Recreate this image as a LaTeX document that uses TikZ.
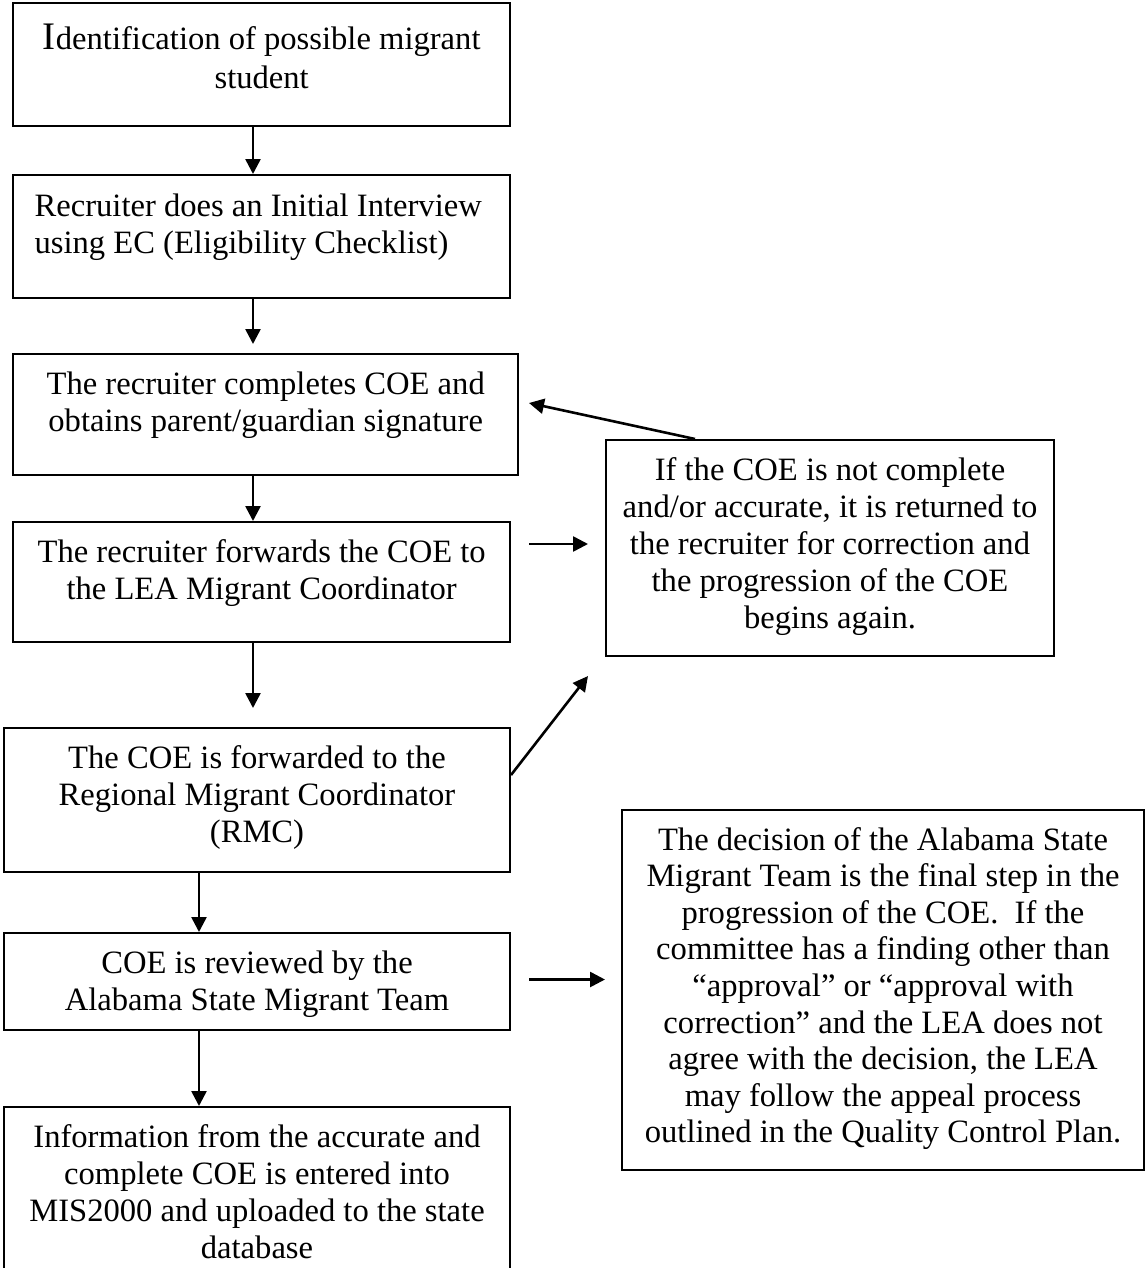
\documentclass[tikz,border=0pt]{standalone}
\usepackage{fontspec}
\setmainfont{Liberation Serif}
\usepackage{tikz}
\usetikzlibrary{calc,arrows.meta}
\newcommand{\stagetext}[3]{\parbox[c][#2][t]{#1}{\centering\rule{0pt}{20pt}#3}}

\begin{document}
\begin{tikzpicture}[
  x=0.5pt, y=-0.5pt,
  stage/.style={draw, line width=1pt, inner sep=0pt, anchor=north west,
    font=\fontsize{16.3}{18.5}\selectfont},
  flow/.style={-{Triangle[length=7.5pt,width=7.5pt]}, line width=1.3pt}
]
\useasboundingbox (0,0) rectangle (1145,1268);
\coordinate (colA) at (253,0);
\coordinate (colB) at (199,0);

\node[stage] (b1) at (12.4,2.4) {\stagetext{248.3pt}{61.3pt}{\rule{0pt}{23pt}{\fontsize{19.5}{19.5}\selectfont I}dentification of possible migrant\\[1pt]student}};
\node[stage] (b2) at (12.4,174) {\parbox[c][61.5pt][t]{248.3pt}{\raggedright\leftskip=10.6pt\rule{0pt}{20.5pt}Recruiter does an Initial Interview\\using EC (Eligibility Checklist)}};
\node[stage] (b3) at (12.4,353) {\stagetext{252.3pt}{60.5pt}{The recruiter completes COE and\\obtains parent/guardian signature}};
\node[stage] (b4) at (12.4,521) {\stagetext{248.3pt}{60pt}{The recruiter forwards the COE to\\the LEA Migrant Coordinator}};
\node[stage] (b5) at (3,727) {\stagetext{253pt}{72pt}{The COE is forwarded to the\\Regional Migrant Coordinator\\(RMC)}};
\node[stage] (b6) at (3,932) {\stagetext{253pt}{48.5pt}{COE is reviewed by the\\Alabama State Migrant Team}};
\node[stage] (b7) at (3,1106) {\stagetext{253pt}{85pt}{Information from the accurate and\\complete COE is entered into\\MIS2000 and uploaded to the state\\database}};
\node[stage] (r1) at (605,439) {\stagetext{224pt}{108pt}{If the COE is not complete\\and/or accurate, it is returned to\\the recruiter for correction and\\the progression of the COE\\begins again.}};
\node[stage, font=\fontsize{16.3}{18.3}\selectfont] (r2) at (621,809) {\stagetext{261pt}{180pt}{The decision of the Alabama State\\Migrant Team is the final step in the\\progression of the COE.\ \ If the\\committee has a finding other than\\“approval” or “approval with\\correction” and the LEA does not\\agree with the decision, the LEA\\may follow the appeal process\\outlined in the Quality Control Plan.}};

\draw[flow] (b1.south -| colA) -- (b2.north -| colA);
\draw[flow, shorten >=4.5pt] (b2.south -| colA) -- (b3.north -| colA);
\draw[flow] (b3.south -| colA) -- (b4.north -| colA);
\draw[flow, shorten >=9.5pt] (b4.south -| colA) -- (b5.north -| colA);
\draw[flow] (b5.south -| colB) -- (b6.north -| colB);
\draw[flow] (b6.south -| colB) -- (b7.north -| colB);

\draw[flow] ($(r1.north west)!0.2!(r1.north east)$) -- ($(b3.east)+(5pt,5.75pt)$);
\draw[flow] ($(b4.east |- r1.west)+(9pt,2pt)$) -- ($(r1.west)+(-8.5pt,2pt)$);
\draw[flow] ($(b5.east)+(0,12.5pt)$) -- ($(r1.south west)+(-8.5pt,-9.5pt)$);
\draw[flow] ($(b6.east)+(9pt,1pt)$) -- ($(b6.east -| r2.west)+(-8pt,1pt)$);
\end{tikzpicture}
\end{document}
